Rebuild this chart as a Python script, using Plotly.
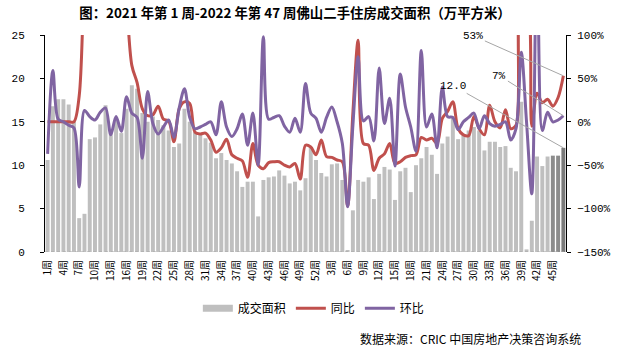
import plotly.graph_objects as go

weeks_2021 = list(range(1, 53))
weeks_2022 = list(range(1, 48))

area = [
    10.6, 16.8, 17.6, 17.6, 17.0, 15.0, 3.9, 4.4, 13.0, 13.2,
    14.7, 16.9, 14.0, 15.3, 13.7, 16.5, 19.2, 18.8, 16.0, 15.0,
    15.6, 15.2, 14.6, 14.0, 12.1, 12.5, 16.5, 15.0, 13.8, 13.5,
    13.1, 12.6, 10.8, 11.4, 10.6, 10.2, 9.3, 7.5, 8.1, 8.1,
    4.1, 8.3, 8.6, 8.7, 9.4, 8.8, 7.9, 8.1, 7.1, 8.5,
    12.0, 10.6,
    9.1, 8.7, 10.1, 10.2, 8.3, 0.2, 4.8, 8.3, 8.1, 8.6,
    6.1, 9.0, 9.8, 9.5, 6.0, 9.3, 9.7, 6.9, 10.0, 10.8,
    12.1, 11.2, 9.0, 12.5, 13.3, 15.4, 13.0, 13.6, 14.0, 14.4,
    14.0, 11.7, 12.7, 12.7, 12.1, 12.2, 9.7, 9.3, 17.3, 0.3,
    3.6, 11.0, 9.9, 11.0, 11.1, 11.1, 12.0,
]

yoy = [
    0, 0, 0, 0, 0, 0, 30, 180, 300, 300,
    280, 300, 260, 250, 220, 140, 65, 45, 15, 7,
    8, 18, 3, 1, -23, 15, 23, 21, -12, -14,
    -13, -21, -35, -30, -20, -38, -42, -45, -64, -25,
    -50, -54, -47, -46, -46, -50, -52, -48, -66, -27,
    -29, -38,
    -21, -40, -41, -44, -46, -97, 10, 94, -25, -27,
    -56, -42, -37, -25, -48, -46, -41, -39, -38, -18,
    -21, -19, -25, 4, 12, 23, -8, -15, -16, 6,
    -8, -15, 19, 0, -7, 14, -8, -4, 150, 150,
    -5, 33, 22, 26, 18, 28, 53,
]

mom = [
    -37, 59, 3, 0, -4, -7, -75, 13, 6, 2,
    11, 16, -15, 6, -11, 29, 10, 5, -42, 35,
    -2, -14, -6, 2, -18, 16, 38, 5, -8, -6,
    -3, 0, -15, 23, -6, -17, -8, 9, -27, 10,
    -50, 98, 3, 5, 7, -5, -12, 4, -12, 44,
    10, 4,
    -12, 5, 17, 0, -25, -98, -5, 75, 1, 6,
    -22, 62, -2, 27, -51, 55, 17, -6, -34, 82,
    -6, 9, -30, 40, 6, 5, -9, 0, 5, 10,
    -8, 7, -2, -5, -3, 0, -21, -8, 80, 0,
    -83, 210, -10, 11, 0, 2, 7,
]

week_labels = [f"{w}周" for w in weeks_2021] + [f"{w}周" for w in weeks_2022]
x = list(range(1, len(week_labels) + 1))
tick_idx = x[::3]
tick_txt = [week_labels[i - 1] for i in tick_idx]

n = len(area)
bar_colors = ["#BFBFBF"] * (n - 3) + ["#8C8C8C", "#8C8C8C", "#7A7A7A"]

RED = "#C0504D"
PURPLE = "#8064A2"

fig = go.Figure()
fig.add_trace(go.Bar(x=x, y=area, marker=dict(color=bar_colors, line=dict(width=0)),
                     name="成交面积", showlegend=False, yaxis="y"))
fig.add_trace(go.Scatter(x=[None], y=[None], mode="lines", name="成交面积",
                         line=dict(color="#BFBFBF", width=7), yaxis="y"))
fig.add_trace(go.Scatter(x=x, y=yoy, mode="lines", name="同比", yaxis="y2",
                         line=dict(color=RED, width=3, shape="spline", smoothing=0.9)))
fig.add_trace(go.Scatter(x=x, y=mom, mode="lines", name="环比", yaxis="y2",
                         line=dict(color=PURPLE, width=3, shape="spline", smoothing=0.9)))

tick_font = dict(family="Liberation Mono, monospace", size=11, color="#000")

fig.update_layout(
    width=630, height=353,
    margin=dict(l=39, r=64, t=35, b=101),
    paper_bgcolor="white", plot_bgcolor="white",
    bargap=0.25,
    font=dict(family="Noto Sans CJK SC, sans-serif", color="#000"),
    title=dict(text="<b>图：2021 年第 1 周-2022 年第 47 周佛山二手住房成交面积（万平方米）</b>",
               x=295 / 630, xref="container", xanchor="center",
               y=1 - 13 / 353, yref="container", yanchor="middle",
               font=dict(family="Noto Sans CJK SC, sans-serif", size=13.4, color="#000")),
    xaxis=dict(range=[0.5, len(x) + 0.5], tickmode="array", tickvals=tick_idx, ticktext=tick_txt,
               tickangle=-90, tickfont=dict(family="Noto Sans CJK SC, sans-serif", size=10, color="#000"),
               showgrid=False, zeroline=False, showline=False, ticks="",
               ticklabelstandoff=5),
    yaxis=dict(range=[0, 25], dtick=5, showgrid=False, zeroline=False,
               showline=True, linecolor="#000", linewidth=1,
               ticks="outside", ticklen=4, tickcolor="#000", tickfont=tick_font,
               ticklabelstandoff=13),
    yaxis2=dict(range=[-150, 100], dtick=50, overlaying="y", side="right", showgrid=False,
                zeroline=False, showline=True, linecolor="#000", linewidth=1,
                ticks="outside", ticklen=4, tickcolor="#000", ticksuffix="%", tickfont=tick_font,
                ticklabelstandoff=4),
    legend=dict(orientation="h", x=0.516, xanchor="center", y=-0.259, yanchor="middle",
                font=dict(family="Noto Sans CJK SC, sans-serif", size=12, color="#000"),
                itemwidth=30, tracegroupgap=0, bgcolor="rgba(0,0,0,0)"),
    shapes=[dict(type="line", xref="paper", x0=0, x1=1, yref="y", y0=0, y1=0,
                 line=dict(color="#A6A6A6", width=1, dash="dot"))],
)

ann_font = dict(family="Liberation Mono, monospace", size=11, color="#000")
last = x[-1]
fig.add_annotation(x=last, y=yoy[-1], yref="y2", text=f"{yoy[-1]}%", showarrow=True,
                   arrowhead=0, arrowwidth=1, arrowcolor="#A6A6A6", ax=-90, ay=-40,
                   font=ann_font, standoff=0)
fig.add_annotation(x=last, y=mom[-1], yref="y2", text=f"{mom[-1]}%", showarrow=True,
                   arrowhead=0, arrowwidth=1, arrowcolor="#A6A6A6", ax=-64, ay=-40,
                   font=ann_font, standoff=0)
fig.add_annotation(x=last, y=area[-1], yref="y", text=f"{area[-1]:.1f}", showarrow=True,
                   arrowhead=0, arrowwidth=1, arrowcolor="#A6A6A6", ax=-110, ay=-62,
                   font=ann_font, standoff=0)
fig.add_annotation(text="数据来源：CRIC 中国房地产决策咨询系统", xref="paper", yref="paper",
                   x=1.033, xanchor="right", y=-0.398, yanchor="middle", showarrow=False,
                   font=dict(family="Noto Sans CJK SC, sans-serif", size=12, color="#000"))

fig.write_html("out.html")
